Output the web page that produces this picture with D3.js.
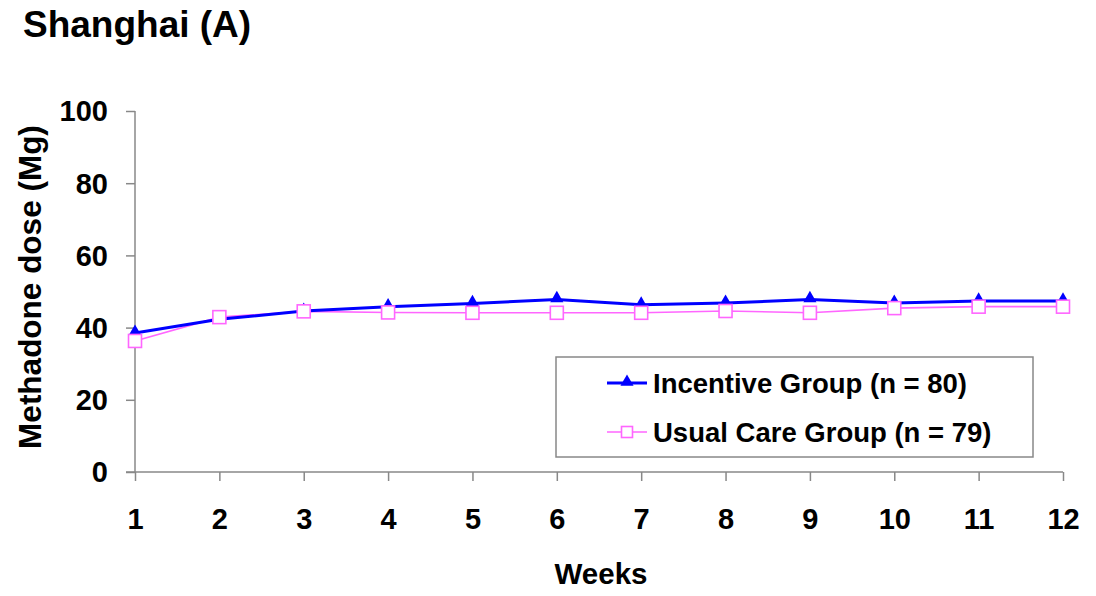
<!DOCTYPE html>
<html>
<head>
<meta charset="utf-8">
<script src="https://cdn.jsdelivr.net/npm/d3@7/dist/d3.min.js"></script>
<style>
  html, body { margin: 0; padding: 0; background: #fff; }
  svg { display: block; }
  text { font-family: "Liberation Sans", Arial, Helvetica, sans-serif; font-weight: bold; fill: #000; }
</style>
</head>
<body>
<svg id="chart" width="1096" height="596"></svg>
<script>
const weeks = [1, 2, 3, 4, 5, 6, 7, 8, 9, 10, 11, 12];
const incentive = [38.5, 42.3, 44.6, 45.8, 46.7, 47.8, 46.3, 46.8, 47.8, 46.8, 47.4, 47.4];
const usualCare = [36.3, 42.9, 44.5, 44.2, 44.1, 44.1, 44.1, 44.6, 44.1, 45.4, 45.8, 45.8];
const yTicks = [0, 20, 40, 60, 80, 100];
const seriesNames = ["Incentive Group (n = 80)", "Usual Care Group (n = 79)"];
const titleText = "Shanghai (A)";
const xTitle = "Weeks";
const yTitle = "Methadone dose (Mg)";

const svg = d3.select("#chart");
const axisColor = "#888";
const blue = "#0000ff";
const pink = "#ff66ff";

const x = d3.scaleLinear().domain([1, 12]).range([135, 1063]);
const y = d3.scaleLinear().domain([0, 100]).range([472, 111]);

// Title
svg.append("text").attr("x", 23).attr("y", 37).attr("font-size", 37).text(titleText);

// Y axis
const yAxis = svg.append("g").attr("transform", "translate(135,0)")
  .call(d3.axisLeft(y).tickValues(yTicks).tickSize(9).tickPadding(18).tickFormat(d3.format("d")));
yAxis.select(".domain").attr("stroke", axisColor).attr("stroke-width", 1.5).attr("d", `M0,${y(100)}V${y(0)}`);
yAxis.selectAll(".tick line").attr("stroke", axisColor).attr("stroke-width", 1.5);
yAxis.selectAll(".tick text").attr("font-size", 29).attr("font-family", "Liberation Sans, Arial, sans-serif").attr("font-weight", "bold").attr("fill", "#000").attr("dy", "0.34em");

// X axis
const xAxis = svg.append("g").attr("transform", "translate(0,472)")
  .call(d3.axisBottom(x).tickValues(weeks).tickSize(9).tickPadding(27).tickFormat(d3.format("d")));
xAxis.select(".domain").attr("stroke", axisColor).attr("stroke-width", 1.5).attr("d", `M126,0H${x(12)}`);
xAxis.selectAll(".tick line").attr("stroke", axisColor).attr("stroke-width", 1.5);
xAxis.selectAll(".tick text").attr("font-size", 29).attr("font-family", "Liberation Sans, Arial, sans-serif").attr("font-weight", "bold").attr("fill", "#000");

// Axis titles
svg.append("text").attr("x", 601).attr("y", 584).attr("text-anchor", "middle").attr("font-size", 29.5).text(xTitle);
svg.append("text").attr("transform", "translate(41,287) rotate(-90)").attr("text-anchor", "middle").attr("font-size", 31.5).text(yTitle);

// Lines
const line = d3.line().x((d, i) => x(weeks[i])).y(d => y(d));
svg.append("path").datum(usualCare).attr("d", line).attr("fill", "none").attr("stroke", pink).attr("stroke-width", 1.6);
svg.append("path").datum(incentive).attr("d", line).attr("fill", "none").attr("stroke", blue).attr("stroke-width", 3);

const tri = d3.symbol().type(d3.symbolTriangle).size(75);
const sqSize = 13;

svg.append("g").selectAll("path").data(incentive).join("path")
  .attr("d", tri)
  .attr("transform", (d, i) => `translate(${x(weeks[i])},${y(d) - 1})`)
  .attr("fill", blue);

svg.append("g").selectAll("rect").data(usualCare).join("rect")
  .attr("x", (d, i) => x(weeks[i]) - sqSize / 2)
  .attr("y", d => y(d) - sqSize / 2)
  .attr("width", sqSize).attr("height", sqSize)
  .attr("fill", "#fff").attr("stroke", pink).attr("stroke-width", 1.6);

// Legend
const lg = svg.append("g");
lg.append("rect").attr("x", 556).attr("y", 357).attr("width", 477).attr("height", 100)
  .attr("fill", "#fff").attr("stroke", axisColor).attr("stroke-width", 1.5);
const legendRows = [
  { name: seriesNames[0], color: blue, w: 3, y: 383, marker: "tri" },
  { name: seriesNames[1], color: pink, w: 1.6, y: 432, marker: "sq" }
];
legendRows.forEach(r => {
  lg.append("line").attr("x1", 607).attr("x2", 647).attr("y1", r.y).attr("y2", r.y)
    .attr("stroke", r.color).attr("stroke-width", r.w);
  if (r.marker === "tri") {
    lg.append("path").attr("d", tri).attr("transform", `translate(627,${r.y - 1})`).attr("fill", blue);
  } else {
    lg.append("rect").attr("x", 627 - 5.5).attr("y", r.y - 5.5).attr("width", 11).attr("height", 11)
      .attr("fill", "#fff").attr("stroke", pink).attr("stroke-width", 1.6);
  }
  lg.append("text").attr("x", 653).attr("y", r.y + 10).attr("font-size", 27.5).text(r.name);
});
</script>
</body>
</html>
